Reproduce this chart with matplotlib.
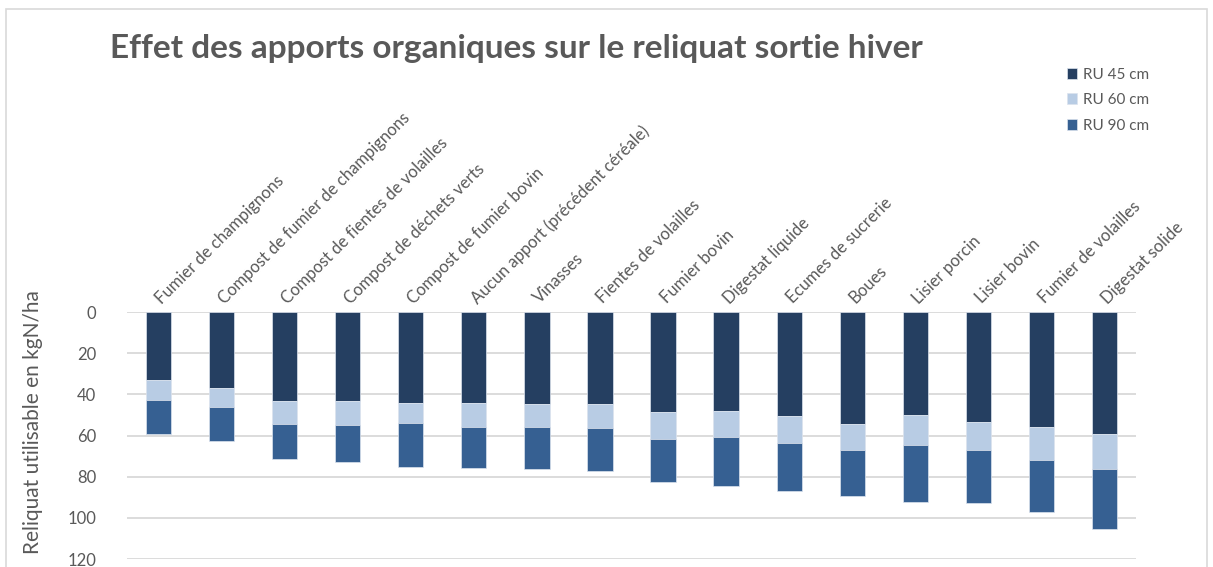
import matplotlib.pyplot as plt
import numpy as np
from matplotlib.patches import Rectangle

categories = [
    "Fumier de champignons",
    "Compost de fumier de champignons",
    "Compost de fientes de volailles",
    "Compost de déchets verts",
    "Compost de fumier bovin",
    "Aucun apport (précédent céréale)",
    "Vinasses",
    "Fientes de volailles",
    "Fumier bovin",
    "Digestat liquide",
    "Ecumes de sucrerie",
    "Boues",
    "Lisier porcin",
    "Lisier bovin",
    "Fumier de volailles",
    "Digestat solide",
]
# stacked segments (kgN/ha)
ru45 = [33.2, 37.1, 43.0, 43.0, 44.0, 44.0, 44.5, 44.5, 48.7, 48.2, 50.6, 54.2, 50.0, 53.4, 55.7, 59.4]
ru60 = [9.4, 9.2, 11.2, 11.7, 9.7, 12.0, 11.5, 12.0, 13.0, 12.5, 13.0, 12.6, 14.6, 13.4, 16.1, 17.1]
ru90 = [16.8, 16.2, 17.2, 18.1, 21.4, 19.7, 20.5, 20.5, 20.8, 23.8, 23.6, 22.7, 27.6, 25.9, 25.6, 28.8]
yticks = [0, 20, 40, 60, 80, 100, 120]

txt = "#595959"
plt.rcParams["font.family"] = ["Lato", "DejaVu Sans"]

fig = plt.figure(figsize=(12.13, 5.67), dpi=100)
fig.patches.append(Rectangle((0.005, -0.01), 0.99, 0.995, transform=fig.transFigure,
                             fill=False, edgecolor="#d9d9d9", linewidth=1.2))
ax = fig.add_axes([0.1047, 0.0141, 0.8318, 0.4356])

x = np.arange(len(categories))
w = 0.4
b1 = np.array(ru45)
b2 = b1 + np.array(ru60)
ax.bar(x, ru45, w, color="#253F61", edgecolor="#dce3ee", linewidth=0.5, label="RU 45 cm", zorder=3)
ax.bar(x, ru60, w, bottom=b1, color="#B8CCE4", edgecolor="#dce3ee", linewidth=0.5, label="RU 60 cm", zorder=3)
ax.bar(x, ru90, w, bottom=b2, color="#366092", edgecolor="#dce3ee", linewidth=0.5, label="RU 90 cm", zorder=3)

ax.set_xlim(-0.5, len(categories) - 0.5)
ax.set_ylim(120, 0)
ax.set_yticks(yticks)
ax.yaxis.grid(True, color="#d9d9d9", linewidth=1.3, zorder=0)
for s in ax.spines.values():
    s.set_visible(False)
ax.tick_params(axis="y", length=0, labelsize=12, labelcolor=txt, pad=22)
ax.xaxis.tick_top()
ax.set_xticks(x)
ax.set_xticklabels(categories, rotation=45, ha="left", va="center",
                   rotation_mode="anchor", fontsize=12, color=txt)
ax.tick_params(axis="x", length=0, pad=8)

ax.set_ylabel("Reliquat utilisable en kgN/ha", fontsize=15, color=txt)
ax.yaxis.set_label_coords(-0.083, 0.555)

fig.text(0.091, 0.915, "Effet des apports organiques sur le reliquat sortie hiver",
         fontsize=24, fontweight="bold", color=txt, va="center", ha="left")

leg = fig.legend(loc="upper left", bbox_to_anchor=(0.868, 0.905), frameon=False,
                 fontsize=11, handlelength=0.7, handleheight=0.7, labelspacing=0.75,
                 handletextpad=0.4)
for t in leg.get_texts():
    t.set_color(txt)

fig.savefig("out.png", dpi=100)
